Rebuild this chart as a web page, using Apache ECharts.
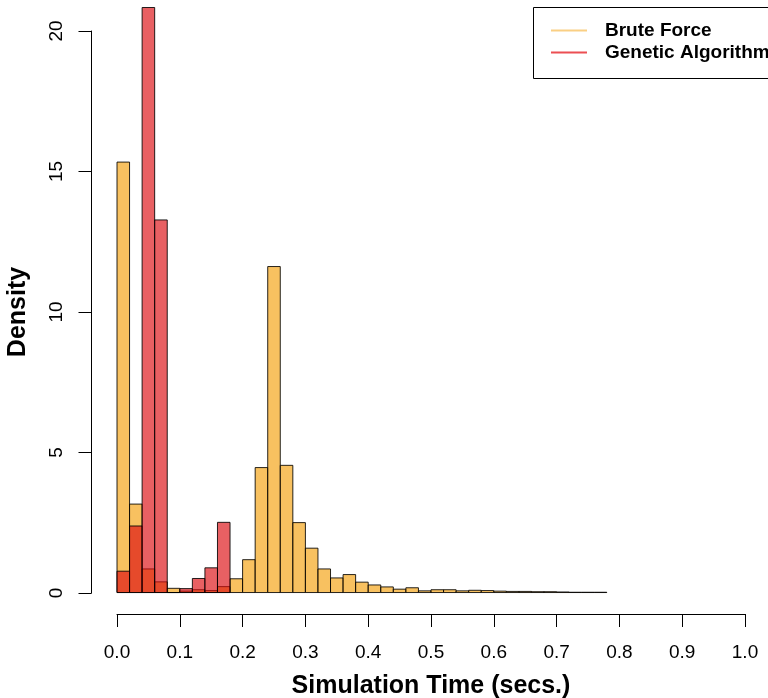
<!DOCTYPE html>
<html>
<head>
<meta charset="utf-8">
<script src="https://cdn.jsdelivr.net/npm/echarts@6/dist/echarts.min.js"></script>
<style>
  html, body { margin: 0; padding: 0; background: #fff; }
  #chart { width: 768px; height: 698px; }
</style>
</head>
<body>
<div id="chart"></div>
<script>
// histogram bins, width 0.02, starting at 0
var binWidth = 0.02;
var seriesNames = ['Brute Force', 'Genetic Algorithm'];
// density per bin (0.00-0.02, 0.02-0.04, ...)
var bruteForce = [15.33, 3.15, 0.84, 0.38, 0.15, 0.05, 0.10, 0.07, 0.21, 0.49,
                  1.17, 4.45, 11.61, 4.53, 2.49, 1.58, 0.84, 0.52, 0.64, 0.37,
                  0.27, 0.20, 0.12, 0.17, 0.06, 0.10, 0.10, 0.06, 0.08, 0.07,
                  0.05, 0.04, 0.04, 0.03, 0.03, 0.02, 0.01, 0.01, 0.01];
var geneticAlg = [0.76, 2.37, 29.6, 13.27, 0, 0.14, 0.50, 0.88, 2.50];
var xTicks = [0, 0.1, 0.2, 0.3, 0.4, 0.5, 0.6, 0.7, 0.8, 0.9, 1.0];
var yTicks = [0, 5, 10, 15, 20];

var FONT = 'Liberation Sans';

// [start, end, density] for each bin
function toBins(vals) {
  return vals.map(function(v, i) {
    return [i * binWidth, (i + 1) * binWidth, v];
  });
}

// rectangles clipped to the plot region, like R
function histRender(fill) {
  return function(params, api) {
    var p0 = api.coord([api.value(0), api.value(2)]);
    var p1 = api.coord([api.value(1), 0]);
    var cs = params.coordSys;
    var rect = echarts.graphic.clipRectByRect(
      { x: p0[0], y: p0[1], width: p1[0] - p0[0], height: p1[1] - p0[1] },
      { x: cs.x, y: cs.y - 1, width: cs.width, height: cs.height + 2 }
    );
    if (!rect) return null;
    return {
      type: 'rect',
      shape: rect,
      style: { fill: fill, stroke: 'rgba(0,0,0,0.85)', lineWidth: 1 }
    };
  };
}

var myChart = echarts.init(document.getElementById('chart'));

var option = {
  animation: false,
  backgroundColor: '#fff',
  grid: [
    // plot region (y from -0.8 to 20.8 like R's 4% padding)
    { left: 117, right: 23, top: 8.5, bottom: 83, outerBoundsMode: 'none', containLabel: false },
    // y axis only from 0 to 20
    { left: 91.5, width: 20, top: 31, bottom: 105, outerBoundsMode: 'none', containLabel: false }
  ],
  legend: {
    orient: 'vertical',
    left: 551,
    top: 21,
    padding: 0,
    itemWidth: 36,
    itemHeight: 2,
    itemGap: 3,
    icon: 'rect',
    textStyle: {
      fontFamily: FONT, fontSize: 19, fontWeight: 'bold', color: '#000',
      lineHeight: 19, padding: [0, 0, 0, 13]
    },
    data: [
      { name: seriesNames[0], itemStyle: { color: 'rgba(245,160,10,0.5)' } },
      { name: seriesNames[1], itemStyle: { color: 'rgba(230,20,25,0.75)' } }
    ]
  },
  graphic: [{
    type: 'rect',
    shape: { x: 533.5, y: 7.5, width: 300, height: 71 },
    style: { fill: 'none', stroke: '#000', lineWidth: 1 },
    z: 10
  }],
  xAxis: [{
    gridIndex: 0,
    type: 'value',
    min: xTicks[0],
    max: xTicks[xTicks.length - 1],
    interval: 0.1,
    offset: -1,
    axisLine: { show: true, onZero: false, lineStyle: { color: '#000', width: 1 } },
    axisTick: { show: true, length: 13, lineStyle: { color: '#000' } },
    axisLabel: {
      margin: 29, fontFamily: FONT, fontSize: 19, color: '#000',
      formatter: function(v) { return v.toFixed(1); },
      showMinLabel: true, showMaxLabel: true
    },
    splitLine: { show: false },
    name: 'Simulation Time (secs.)',
    nameLocation: 'middle',
    nameGap: 60,
    nameTextStyle: { fontFamily: FONT, fontSize: 25, fontWeight: 'bold', color: '#000' }
  }, {
    gridIndex: 1,
    type: 'value',
    show: false
  }],
  yAxis: [{
    gridIndex: 0,
    type: 'value',
    min: -0.8,
    max: 20.8,
    show: false
  }, {
    gridIndex: 1,
    type: 'value',
    min: yTicks[0],
    max: yTicks[yTicks.length - 1],
    interval: 5,
    axisLine: { show: true, onZero: false, lineStyle: { color: '#000', width: 1 } },
    axisTick: { show: true, length: 13, lineStyle: { color: '#000' } },
    axisLabel: {
      rotate: 90, margin: 25, fontFamily: FONT, fontSize: 19, color: '#000'
    },
    splitLine: { show: false },
    name: 'Density',
    nameLocation: 'middle',
    nameGap: 61,
    nameTextStyle: { fontFamily: FONT, fontSize: 25, fontWeight: 'bold', color: '#000' }
  }],
  series: [
    {
      name: seriesNames[0],
      type: 'custom',
      xAxisIndex: 0,
      yAxisIndex: 0,
      renderItem: histRender('rgba(245,160,10,0.65)'),
      encode: { x: [0, 1], y: 2 },
      itemStyle: { color: 'rgba(245,160,10,0.5)' },
      data: toBins(bruteForce),
      z: 2
    },
    {
      name: seriesNames[1],
      type: 'custom',
      xAxisIndex: 0,
      yAxisIndex: 0,
      renderItem: histRender('rgba(220,10,15,0.65)'),
      encode: { x: [0, 1], y: 2 },
      itemStyle: { color: 'rgba(230,20,25,0.75)' },
      data: toBins(geneticAlg),
      z: 3
    }
  ]
};

myChart.setOption(option);
</script>
</body>
</html>
